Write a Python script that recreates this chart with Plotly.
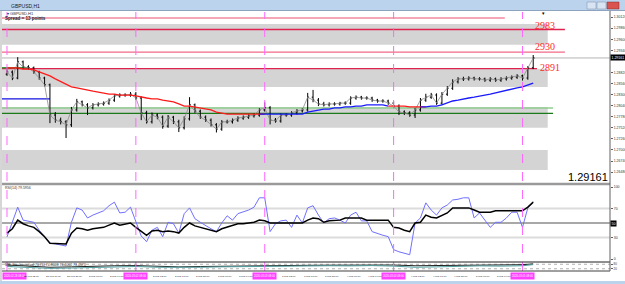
import plotly.graph_objects as go

W, H = 625, 284
def PX(x): return x / W
def PY(y): return 1 - y / H

# ---------------- data ----------------
bars = list(range(99))
opens = [1.2878,1.2883,1.2869,1.2907,1.2895,1.2893,1.2883,1.2869,1.2853,1.2782,
1.2770,1.2766,1.2759,1.2794,1.2813,1.2806,1.2799,1.2806,1.2808,1.2810,
1.2817,1.2827,1.2829,1.2829,1.2831,1.2822,1.2787,1.2766,1.2782,1.2777,
1.2756,1.2777,1.2766,1.2752,1.2773,1.2806,1.2791,1.2777,1.2770,1.2759,
1.2749,1.2766,1.2766,1.2770,1.2775,1.2777,1.2780,1.2782,1.2794,1.2799,
1.2770,1.2768,1.2782,1.2782,1.2787,1.2792,1.2794,1.2824,1.2817,1.2808,
1.2806,1.2808,1.2808,1.2810,1.2810,1.2822,1.2824,1.2822,1.2822,1.2817,
1.2815,1.2815,1.2810,1.2803,1.2789,1.2787,1.2782,1.2794,1.2817,1.2824,
1.2829,1.2810,1.2831,1.2845,1.2860,1.2867,1.2867,1.2869,1.2867,1.2867,
1.2864,1.2867,1.2864,1.2867,1.2869,1.2871,1.2874,1.2869,1.2893]
highs = [1.2889,1.2887,1.2918,1.2910,1.2899,1.2896,1.2886,1.2872,1.2856,1.2789,
1.2776,1.2770,1.2801,1.2820,1.2816,1.2810,1.2810,1.2812,1.2814,1.2821,
1.2831,1.2833,1.2833,1.2836,1.2836,1.2826,1.2792,1.2788,1.2786,1.2781,
1.2782,1.2780,1.2771,1.2779,1.2824,1.2809,1.2795,1.2781,1.2774,1.2763,
1.2770,1.2771,1.2774,1.2779,1.2781,1.2784,1.2786,1.2798,1.2812,1.2803,
1.2775,1.2786,1.2786,1.2791,1.2796,1.2798,1.2834,1.2841,1.2822,1.2813,
1.2812,1.2812,1.2813,1.2814,1.2826,1.2828,1.2827,1.2826,1.2825,1.2820,
1.2819,1.2818,1.2814,1.2807,1.2793,1.2791,1.2799,1.2822,1.2832,1.2834,
1.2833,1.2836,1.2850,1.2866,1.2871,1.2872,1.2873,1.2872,1.2871,1.2870,
1.2871,1.2870,1.2871,1.2873,1.2875,1.2878,1.2877,1.2897,1.2923]
lows = [1.2874,1.2864,1.2866,1.2891,1.2889,1.2879,1.2865,1.2849,1.2763,1.2764,
1.2760,1.2728,1.2754,1.2790,1.2802,1.2782,1.2795,1.2802,1.2804,1.2806,
1.2813,1.2823,1.2825,1.2825,1.2818,1.2770,1.2762,1.2762,1.2772,1.2750,
1.2752,1.2761,1.2742,1.2748,1.2769,1.2787,1.2773,1.2766,1.2755,1.2741,
1.2745,1.2762,1.2762,1.2766,1.2771,1.2773,1.2776,1.2778,1.2790,1.2760,
1.2764,1.2764,1.2778,1.2778,1.2783,1.2788,1.2790,1.2812,1.2803,1.2802,
1.2802,1.2804,1.2804,1.2806,1.2806,1.2818,1.2818,1.2818,1.2813,1.2811,
1.2811,1.2806,1.2799,1.2782,1.2782,1.2778,1.2775,1.2790,1.2813,1.2820,
1.2806,1.2806,1.2827,1.2841,1.2856,1.2862,1.2863,1.2863,1.2863,1.2860,
1.2860,1.2860,1.2860,1.2863,1.2865,1.2867,1.2863,1.2865,1.2890]
closes = [1.2883,1.2869,1.2907,1.2895,1.2893,1.2883,1.2869,1.2853,1.2782,1.2770,
1.2766,1.2759,1.2794,1.2813,1.2806,1.2799,1.2806,1.2808,1.2810,1.2817,
1.2827,1.2829,1.2829,1.2831,1.2822,1.2787,1.2766,1.2782,1.2777,1.2756,
1.2777,1.2766,1.2752,1.2773,1.2806,1.2791,1.2777,1.2770,1.2759,1.2749,
1.2766,1.2766,1.2770,1.2775,1.2777,1.2780,1.2782,1.2794,1.2799,1.2770,
1.2768,1.2782,1.2782,1.2787,1.2792,1.2794,1.2824,1.2817,1.2808,1.2806,
1.2808,1.2808,1.2810,1.2810,1.2822,1.2824,1.2822,1.2822,1.2817,1.2815,
1.2815,1.2810,1.2803,1.2789,1.2787,1.2782,1.2794,1.2817,1.2824,1.2829,
1.2810,1.2831,1.2845,1.2860,1.2867,1.2867,1.2869,1.2867,1.2867,1.2864,
1.2867,1.2864,1.2867,1.2869,1.2871,1.2874,1.2869,1.2893,1.2916]
ma = [1.2893,1.2893,1.2893,1.2890,1.2890,1.2888,1.2883,1.2878,1.2874,1.2867,
1.2860,1.2853,1.2848,1.2846,1.2843,1.2841,1.2838,1.2836,1.2834,1.2831,
1.2831,1.2829,1.2829,1.2829,1.2827,1.2824,1.2822,1.2820,1.2820,1.2817,
1.2815,1.2813,1.2808,1.2803,1.2803,1.2801,1.2799,1.2796,1.2794,1.2789,
1.2787,1.2784,1.2784,1.2784,1.2784,1.2784,1.2784,1.2784,1.2784,1.2784,
1.2784,1.2784,1.2784,1.2784,1.2784,1.2784,1.2789,1.2791,1.2794,1.2796,
1.2796,1.2799,1.2799,1.2801,1.2801,1.2803,1.2803,1.2806,1.2806,1.2806,
1.2806,1.2803,1.2803,1.2803,1.2803,1.2801,1.2801,1.2801,1.2801,1.2803,
1.2803,1.2806,1.2810,1.2815,1.2817,1.2820,1.2822,1.2824,1.2827,1.2829,
1.2831,1.2834,1.2838,1.2841,1.2843,1.2846,1.2848,1.2853,1.2857]
ma_up = [0]*48 + [1]*24 + [0]*6 + [1]*21   # 1 = blue (rising) part

rsi = [30.6,51,72,54,53,51,40,31,22,21,19,18,51,71,68,57,61,64,67,74,
79,64,65,72,51,32,24,40,44,31,51,49,36,63,71,56,51,46,42,38,
50,60,54,63,65,68,72,85,85,38,49,53,54,44,61,50,71,74,61,50,
56,57,54,50,61,65,53,53,38,35,33,31,13,10,8,6,50,57,78,68,
61,71,75,82,83,85,85,57,64,54,44,51,51,57,65,65,44,71,79.6]
rsi_ma = [36,42,54,49,46,44,38,31,22,22,21,21,36,43,42,40,42,43,44,47,
50,47,49,50,44,39,33,39,40,38,39,38,36,44,50,46,44,42,40,38,
42,44,47,49,49,50,51,54,53,50,50,50,50,51,51,50,54,57,56,51,
53,54,54,57,57,58,57,54,54,54,54,54,44,43,40,38,50,51,61,58,
57,61,64,71,71,71,71,68,65,65,65,67,67,67,68,68,67,72,79]
rsi_levels = [70, 50, 30]

stoch_x = [0,4,8,12,16,20,24,28,32,36,40,44,48,52,56,60,64,68,72,76,80,84,88,92,96,98]
stoch_main = [70,60,40,45,55,60,62,50,45,50,55,60,65,62,66,68,70,72,70,60,62,70,72,70,74,85]
stoch_sig = [50,35,25,30,40,45,50,40,35,40,45,50,55,52,58,60,58,62,55,40,45,55,58,55,60,75]

price_ticks = [1.2622,1.2648,1.2674,1.2700,1.2726,1.2752,1.2778,1.2804,1.2830,
               1.2856,1.2882,1.2934,1.2960,1.2986,1.3012]
bid = 1.29161

band_lo = [1.2947, 1.2848, 1.2752, 1.2653]
band_hi = [1.2996, 1.2890, 1.2801, 1.2700]
band_end = [100.7, 100.7, 100.7, 100.7]

level_val = [1.3010, 1.2983, 1.2930, 1.2891, 1.2820, 1.2893, 1.27985, 1.2786]
level_end = [92.7, 103.9, 103.9, 98.7, 8.0, 3.9, 101.7, 101.7]
level_col = ['#f28aa0', '#e0234e', '#f06a88', '#e0234e', '#1010e0', '#1a8a1a', '#8fcf8f', '#1a7a1a']
level_txt = ['', '2983', '2930', '2891', '', '', '', '']
level_txt_dx = [0, -6.0, -6.0, 0.2, 0, 0, 0, 0]
level_txt_dy = [0, 4, 6, 1, 0, 0, 0, 0]

vline_bars = [0, 24, 48, 72, 96]
vline_txt = ['2020.02.28 08:00', '2020.03.02 08:00', '2020.03.03 08:00',
             '2020.03.04 08:00', '2020.03.05 08:00']
time_bars = [4, 8, 12, 16, 20, 28, 32, 36, 40, 44, 52, 56, 60, 64, 68, 76, 80, 84, 88, 92]
time_txt = ['28 Feb 12:00', '28 Feb 16:00', '28 Feb 20:00', '2 Mar 00:00', '2 Mar 04:00',
            '2 Mar 12:00', '2 Mar 16:00', '2 Mar 20:00', '3 Mar 00:00', '3 Mar 04:00',
            '3 Mar 12:00', '3 Mar 16:00', '3 Mar 20:00', '4 Mar 00:00', '4 Mar 04:00',
            '4 Mar 12:00', '4 Mar 16:00', '4 Mar 20:00', '5 Mar 00:00', '5 Mar 04:00']

# ---------------- geometry ----------------
X0, X1 = -0.93, 112.3
main_px = (12, 183)
rsi_px = (185, 262)
sto_px = (262, 271)
PRICE_RANGE = [1.26223, 1.30241]
RSI_RANGE = [-4.17, 102.8]
STO_RANGE = [-10, 110]
FONT = 'Liberation Sans'

fig = go.Figure()

fig.add_trace(go.Scatter(x=bars, y=closes, mode='lines', line=dict(color='#8c8c8c', width=0.8),
                         xaxis='x', yaxis='y', hoverinfo='skip'))
red_y = [v if (not ma_up[i] or (i + 1 < len(ma) and not ma_up[i + 1]) or (i > 0 and not ma_up[i - 1])) else None
         for i, v in enumerate(ma)]
blue_y = [v if (ma_up[i] or (i + 1 < len(ma) and ma_up[i + 1])) else None for i, v in enumerate(ma)]
fig.add_trace(go.Scatter(x=bars, y=red_y, mode='lines', line=dict(color='#ff1a1a', width=1.3),
                         connectgaps=False, xaxis='x', yaxis='y', hoverinfo='skip'))
fig.add_trace(go.Scatter(x=bars, y=blue_y, mode='lines', line=dict(color='#1a1aff', width=1.3),
                         connectgaps=False, xaxis='x', yaxis='y', hoverinfo='skip'))
fig.add_trace(go.Ohlc(x=bars, open=opens, high=highs, low=lows, close=closes,
                      increasing=dict(line=dict(color='black', width=1)),
                      decreasing=dict(line=dict(color='black', width=1)),
                      tickwidth=0.25, xaxis='x', yaxis='y', hoverinfo='skip'))

fig.add_trace(go.Scatter(x=bars, y=rsi, mode='lines', line=dict(color='#7070ff', width=1),
                         xaxis='x', yaxis='y2', hoverinfo='skip'))
fig.add_trace(go.Scatter(x=bars, y=rsi_ma, mode='lines', line=dict(color='black', width=1.5),
                         xaxis='x', yaxis='y2', hoverinfo='skip'))
fig.add_trace(go.Scatter(x=stoch_x, y=stoch_main, mode='lines', line=dict(color='#202020', width=1),
                         xaxis='x', yaxis='y3', hoverinfo='skip'))
fig.add_trace(go.Scatter(x=stoch_x, y=stoch_sig, mode='lines', line=dict(color='#4f9f9f', width=1),
                         xaxis='x', yaxis='y3', hoverinfo='skip'))

shapes = []
annotations = []

for lo, hi, e in zip(band_lo, band_hi, band_end):
    shapes.append(dict(type='rect', xref='x', yref='y', x0=X0, x1=e, y0=lo, y1=hi,
                       fillcolor='#d4d4d4', line=dict(width=0), layer='below'))
shapes.append(dict(type='line', xref='paper', yref='y', x0=PX(2), x1=PX(610), y0=bid, y1=bid,
                   line=dict(color='#b4b4b4', width=1), layer='below'))
for v, e, c, t, dx, dy in zip(level_val, level_end, level_col, level_txt, level_txt_dx, level_txt_dy):
    shapes.append(dict(type='line', xref='x', yref='y', x0=X0, x1=e, y0=v, y1=v,
                       line=dict(color=c, width=1.3), layer='below'))
    if t:
        annotations.append(dict(x=e + dx, y=v, xref='x', yref='y', text=t,
                                showarrow=False, xanchor='left', yanchor='middle', yshift=dy,
                                font=dict(family='Liberation Serif', size=10, color='#ff2a2a')))

for k, (b, t) in enumerate(zip(vline_bars, vline_txt)):
    shapes.append(dict(type='line', xref='x', yref='paper', x0=b, x1=b, y0=PY(271), y1=PY(12),
                       line=dict(color='#ff66ff', width=1, dash='dash')))
    annotations.append(dict(x=b if k else X0, y=PY(276), xref='x', yref='paper', text=t, showarrow=False,
                            xanchor='center' if k else 'left', yanchor='middle', bgcolor='#ff40ff',
                            borderpad=1.0, font=dict(family=FONT, size=2.7, color='white')))
for b, t in zip(time_bars, time_txt):
    annotations.append(dict(x=b, y=PY(276), xref='x', yref='paper', text=t, showarrow=False,
                            xanchor='left', yanchor='middle', xshift=-6,
                            font=dict(family=FONT, size=2.5, color='#222222')))

for lv in rsi_levels:
    shapes.append(dict(type='line', xref='paper', yref='y2', x0=PX(2), x1=PX(610), y0=lv, y1=lv,
                       line=dict(color='#a8a8a8' if lv == 50 else '#dcdcdc', width=2), layer='below'))
for lv in [80, 20]:
    shapes.append(dict(type='line', xref='paper', yref='y3', x0=PX(2), x1=PX(610), y0=lv, y1=lv,
                       line=dict(color='#b0b0b0', width=1, dash='dot'), layer='below'))

shapes += [
    dict(type='rect', xref='paper', yref='paper', x0=0, x1=1, y0=PY(10), y1=1,
         fillcolor='#bcd3ee', line=dict(width=0)),
    dict(type='line', xref='paper', yref='paper', x0=0, x1=1, y0=PY(10.5), y1=PY(10.5),
         line=dict(color='#8ea3bd', width=1)),
    dict(type='rect', xref='paper', yref='paper', x0=PX(587), x1=PX(596), y0=PY(9), y1=PY(2),
         fillcolor='#d9e4f2', line=dict(color='#7f8fa6', width=0.5)),
    dict(type='rect', xref='paper', yref='paper', x0=PX(597), x1=PX(606), y0=PY(9), y1=PY(2),
         fillcolor='#d9e4f2', line=dict(color='#7f8fa6', width=0.5)),
    dict(type='rect', xref='paper', yref='paper', x0=PX(607), x1=PX(619), y0=PY(9), y1=PY(2),
         fillcolor='#d9534f', line=dict(color='#8a2a2a', width=0.5)),
    dict(type='line', xref='paper', yref='paper', x0=PX(2), x1=PX(610), y0=PY(184), y1=PY(184),
         line=dict(color='#9a9a9a', width=2.5)),
    dict(type='line', xref='paper', yref='paper', x0=PX(2), x1=PX(610), y0=PY(262), y1=PY(262),
         line=dict(color='#202020', width=1)),
    dict(type='line', xref='paper', yref='paper', x0=PX(2), x1=PX(610), y0=PY(271), y1=PY(271),
         line=dict(color='#404040', width=1)),
    dict(type='line', xref='paper', yref='paper', x0=PX(610), x1=PX(610), y0=PY(271), y1=PY(11),
         line=dict(color='#606060', width=1)),
    dict(type='line', xref='paper', yref='paper', x0=PX(1), x1=PX(1), y0=PY(281), y1=PY(11),
         line=dict(color='#c8c8c8', width=1.5)),
    dict(type='rect', xref='paper', yref='paper', x0=0, x1=1, y0=0, y1=PY(281),
         fillcolor='#bcd3ee', line=dict(width=0)),
]

annotations += [
    dict(x=PX(9), y=PY(5.5), xref='paper', yref='paper', text='GBPUSD,H1', showarrow=False,
         xanchor='left', yanchor='middle', font=dict(family=FONT, size=5, color='#1a1a1a')),
    dict(x=PX(5), y=PY(13.5), xref='paper', yref='paper', text='▾ GBPUSD,H1', showarrow=False,
         xanchor='left', yanchor='middle', font=dict(family=FONT, size=4, color='#333333')),
    dict(x=PX(3), y=PY(18.5), xref='paper', yref='paper', text='<b>Spread = 13 points</b>', showarrow=False,
         xanchor='left', yanchor='middle', font=dict(family=FONT, size=4.5, color='#222222')),
    dict(x=PX(3), y=PY(188), xref='paper', yref='paper', text='RSI(14) 79.5956', showarrow=False,
         xanchor='left', yanchor='middle', font=dict(family=FONT, size=3.5, color='#333333')),
    dict(x=PX(3), y=PY(265), xref='paper', yref='paper',
         text='MB_Stochastic(vol 76.76) 74.8663 76.4002 73.4573', showarrow=False,
         xanchor='left', yanchor='middle', font=dict(family=FONT, size=3.5, color='#333333')),
    dict(x=PX(610), y=PY(176.5), xref='paper', yref='paper', text=f'{bid:.5f}', showarrow=False,
         xanchor='right', yanchor='middle', font=dict(family=FONT, size=11, color='black')),
    dict(x=PX(610), y=bid, xref='paper', yref='y', text=f'{bid:.5f}', showarrow=False,
         xanchor='left', yanchor='middle', bgcolor='black', borderpad=0.5,
         font=dict(family=FONT, size=3.5, color='white')),
    dict(x=PX(610), y=50, xref='paper', yref='y2', text='50', showarrow=False,
         xanchor='left', yanchor='middle', bgcolor='black', borderpad=0.5,
         font=dict(family=FONT, size=3.5, color='white')),
    dict(x=PX(543), y=PY(12.5), xref='paper', yref='paper', text='▾', showarrow=False,
         xanchor='center', yanchor='middle', font=dict(family=FONT, size=5, color='black')),
]

axis_common = dict(showgrid=False, zeroline=False, fixedrange=True)
fig.update_layout(
    width=W, height=H, margin=dict(l=0, r=0, t=0, b=0),
    paper_bgcolor='white', plot_bgcolor='white', showlegend=False,
    xaxis=dict(domain=[PX(2), PX(610)], range=[X0, X1], showticklabels=False, ticks='',
               anchor='y3', rangeslider=dict(visible=False), **axis_common),
    yaxis=dict(domain=[PY(main_px[1]), PY(main_px[0])], range=PRICE_RANGE, side='right', anchor='x',
               tickvals=price_ticks, ticktext=[f'{v:.5f}' for v in price_ticks], ticks='outside',
               ticklen=2, tickcolor='#606060', tickfont=dict(family=FONT, size=3.5, color='#333333'),
               **axis_common),
    yaxis2=dict(domain=[PY(rsi_px[1]), PY(rsi_px[0])], range=RSI_RANGE, side='right', anchor='x',
                tickvals=[100, 70, 30, 0], ticks='outside', ticklen=2, tickcolor='#606060',
                tickfont=dict(family=FONT, size=3.5, color='#333333'), **axis_common),
    yaxis3=dict(domain=[PY(sto_px[1]), PY(sto_px[0])], range=STO_RANGE, side='right', anchor='x',
                tickvals=[80, 20], ticks='outside', ticklen=2, tickcolor='#606060',
                tickfont=dict(family=FONT, size=3, color='#333333'), **axis_common),
    shapes=shapes, annotations=annotations,
)

fig.write_html('out.html')
